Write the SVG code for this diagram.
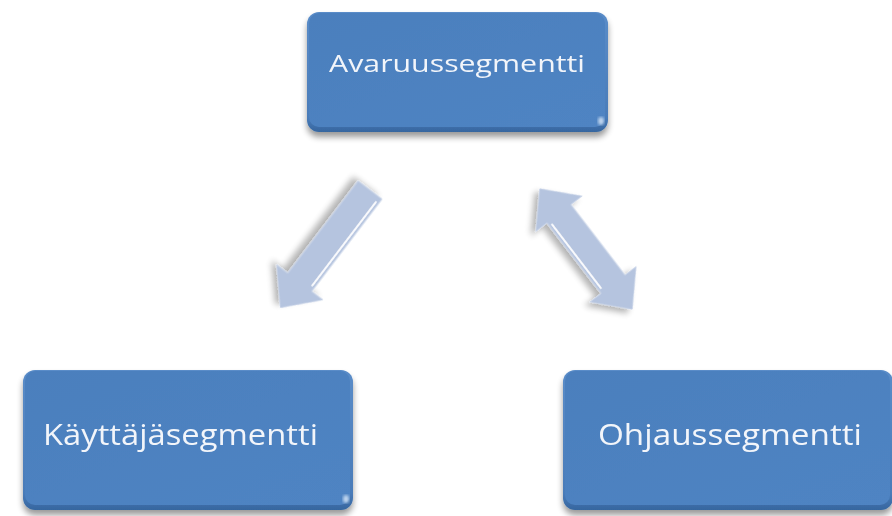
<svg xmlns="http://www.w3.org/2000/svg" width="892" height="516" viewBox="0 0 892 516">
  <defs>
    <filter id="shadow" x="-20%" y="-20%" width="140%" height="150%">
      <feGaussianBlur in="SourceAlpha" stdDeviation="3"/>
      <feOffset dx="0" dy="5" result="b"/>
      <feComponentTransfer><feFuncA type="linear" slope="0.4"/></feComponentTransfer>
      <feMerge><feMergeNode/><feMergeNode in="SourceGraphic"/></feMerge>
    </filter>
    <filter id="ashadow" x="-30%" y="-30%" width="160%" height="170%">
      <feGaussianBlur in="SourceAlpha" stdDeviation="3"/>
      <feOffset dx="0" dy="6" result="b"/>
      <feComponentTransfer><feFuncA type="linear" slope="0.3"/></feComponentTransfer>
      <feMerge><feMergeNode/><feMergeNode in="SourceGraphic"/></feMerge>
    </filter>
    <filter id="soft"><feGaussianBlur stdDeviation="1.5"/></filter>
    <linearGradient id="bevel" x1="0" y1="0" x2="0" y2="1">
      <stop offset="0" stop-color="#5A8CC8"/>
      <stop offset="0.88" stop-color="#4A7CB9"/>
      <stop offset="1" stop-color="#36669F"/>
    </linearGradient>
    <linearGradient id="face" x1="0" y1="0" x2="1" y2="1">
      <stop offset="0" stop-color="#4B7FBD"/>
      <stop offset="1" stop-color="#4F84C3"/>
    </linearGradient>
    <style>
      .edge { fill: url(#bevel); }
      .face { fill: url(#face); }
      .lbl { font-family: "Open Sans", "Noto Sans", "Liberation Sans", sans-serif; fill: #F2F5FA; }
      .arrow { fill: #B5C4DF; stroke: #C9D4E8; stroke-width: 1; stroke-linejoin: miter; }
      .hl { fill: none; stroke: #FFFFFF; stroke-width: 2; stroke-linecap: round; opacity: 0.9; }
      .glint { fill: #DDEBFA; opacity: 0.8; }
    </style>
  </defs>

  <g id="node-avaruus" filter="url(#shadow)">
    <rect class="edge" x="307" y="12" width="301" height="120" rx="12"/>
    <rect class="face" x="309" y="13" width="296" height="114" rx="10"/>
    <ellipse class="glint" cx="601" cy="121" rx="3" ry="4" filter="url(#soft)"/>
    <text class="lbl" x="329" y="72" font-size="23.5" textLength="256" lengthAdjust="spacingAndGlyphs">Avaruussegmentti</text>
  </g>

  <g id="node-kayttaja" filter="url(#shadow)">
    <rect class="edge" x="23" y="370" width="330" height="140" rx="12"/>
    <rect class="face" x="25" y="371" width="325" height="134" rx="10"/>
    <ellipse class="glint" cx="346" cy="499" rx="3" ry="4" filter="url(#soft)"/>
    <text class="lbl" x="43" y="445" font-size="29.5" textLength="275" lengthAdjust="spacingAndGlyphs">Käyttäjäsegmentti</text>
  </g>

  <g id="node-ohjaus" filter="url(#shadow)">
    <rect class="edge" x="563" y="370" width="330" height="140" rx="12"/>
    <rect class="face" x="565" y="371" width="325" height="134" rx="10"/>
    <text class="lbl" x="598" y="445" font-size="29.5" textLength="264" lengthAdjust="spacingAndGlyphs">Ohjaussegmentti</text>
  </g>

  <g id="connectors">
    <g id="arrow-avaruus-kayttaja" filter="url(#ashadow)" transform="translate(370,190) rotate(127.3)">
      <polygon class="arrow" points="0,-15 116,-15 116,-29 148,0 116,29 116,15 0,15"/>
      <line class="hl" x1="6" y1="-12" x2="111" y2="-12"/>
    </g>
    <g id="arrow-avaruus-ohjaus" filter="url(#ashadow)" transform="translate(586,249) rotate(52.5)">
      <polygon class="arrow" points="-76,0 -44.5,-29 -44.5,-15 44.5,-15 44.5,-29 76,0 44.5,29 44.5,15 -44.5,15 -44.5,29"/>
      <line class="hl" x1="-40" y1="12" x2="40" y2="12"/>
    </g>
  </g>
</svg>
